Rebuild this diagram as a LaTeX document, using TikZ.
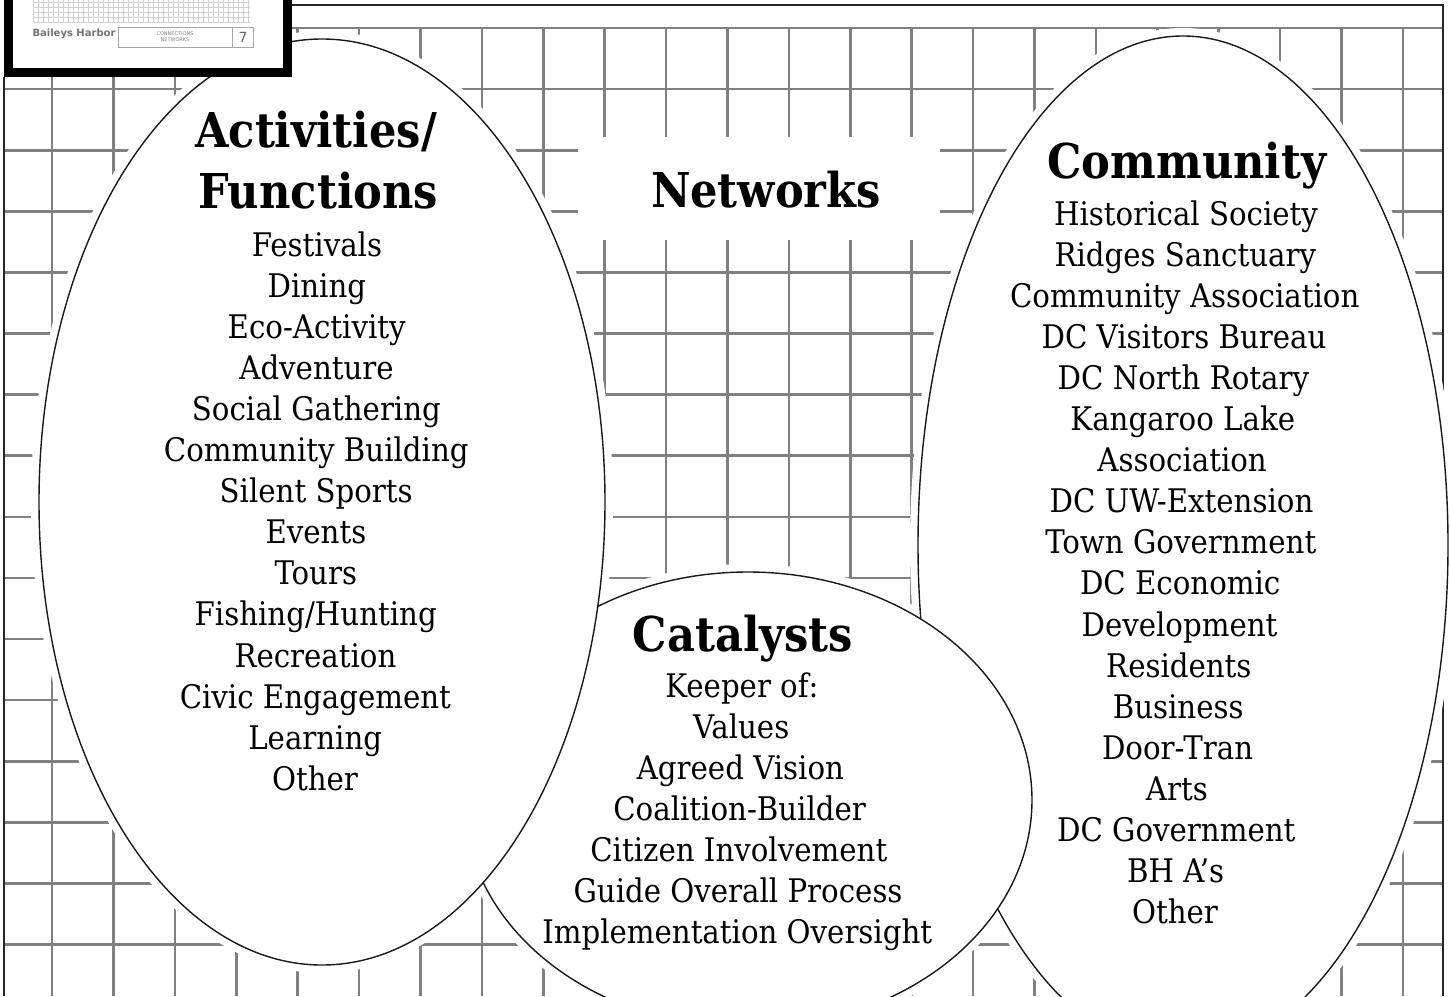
\documentclass[tikz,border=0pt]{standalone}
\usepackage{fontspec}
\setmainfont{DejaVu Serif Condensed}
\setsansfont{DejaVu Sans}
\begin{document}
\begin{tikzpicture}[x=1pt,y=-1pt,
    gridline/.style={draw=black!50, line width=2.6},
    frameline/.style={draw=black!85, line width=1.2},
    halo/.style={draw=white, line width=16},
    blob/.style={fill=white, draw=black!90, line width=1.4},
    item/.style={anchor=base, inner sep=0pt, font=\fontsize{32.5}{38}\selectfont},
    heading/.style={anchor=base, inner sep=0pt, font=\bfseries\fontsize{48}{56}\selectfont}]
    \useasboundingbox (0,0) rectangle (1450,996);
    \fill[white] (0,0) rectangle (1450,996);

    % Grid paper behind everything
    \foreach \k in {0,...,22}
        \draw[gridline] ({52+61.4*\k},28) -- ({52+61.4*\k},996);
    \foreach \k in {0,...,15}
        \draw[gridline] (4,{28+61.1*\k}) -- (1443,{28+61.1*\k});

    % Page border
    \draw[frameline] (292,5) -- (1443,5) -- (1443,996);
    \draw[frameline] (4,77) -- (4,996);

    % White gap round the three ellipses
    \draw[halo] (1183,545) ellipse [x radius=265, y radius=509];
    \draw[halo] (748,800) ellipse [x radius=284, y radius=228];
    \draw[halo] (322,502) ellipse [x radius=283, y radius=463];

    % The ellipses, back to front
    \filldraw[blob] (1183,545) ellipse [x radius=265, y radius=509];
    \filldraw[blob] (748,800) ellipse [x radius=284, y radius=228];
    \filldraw[blob] (322,502) ellipse [x radius=283, y radius=463];

    % Title box
    \fill[white] (578,137) rectangle (940,240);
    \node[heading] (networks) at (766,207) {Networks};

    % Activities / Functions
    \node[heading] (acttitle) at (316,147) {Activities/};
    \node[heading] (actsub) at (318,208) {Functions};
    \foreach \txt [count=\i from 0] in {Festivals, Dining, Eco-Activity, Adventure,
        Social Gathering, Community Building, Silent Sports, Events, Tours,
        Fishing/Hunting, Recreation, Civic Engagement, Learning, Other}
        \node[item] (act\i) at ({317-0.15*\i},{256+41.1*\i}) {\txt};

    % Catalysts
    \node[heading] (cattitle) at (743,651) {Catalysts};
    \foreach \txt [count=\i from 0] in {Keeper of:, Values, Agreed Vision,
        Coalition-Builder, Citizen Involvement, Guide Overall Process,
        Implementation Oversight}
        \node[item] (cat\i) at ({742-0.8*\i},{697+41*\i}) {\txt};

    % Community
    \node[heading] (comtitle) at (1187,178) {Community};
    \foreach \txt [count=\i from 0] in {Historical Society, Ridges Sanctuary,
        Community Association, DC Visitors Bureau, DC North Rotary, Kangaroo Lake,
        Association, DC UW-Extension, Town Government, DC Economic, Development,
        Residents, Business, Door-Tran, Arts, DC Government, BH A’s, Other}
        \node[item] (com\i) at ({1186-0.65*\i},{225+41.1*\i}) {\txt};

    % Thumbnail of the cover page, top left
    \fill[white] (0,0) rectangle (292,77);
    \foreach \k in {0,...,43}
        \draw[black!18, line width=0.5] ({33+5*\k},0) -- ({33+5*\k},22);
    \foreach \k in {0,...,4}
        \draw[black!18, line width=0.5] (33,{2+5*\k}) -- (250,{2+5*\k});
    \node[anchor=base, inner sep=0pt, text=black!55,
        font=\sffamily\bfseries\fontsize{10}{12}\selectfont] (harbor) at (74,36) {Baileys Harbor};
    \draw[black!35, line width=0.6] (118,27) rectangle (253,47);
    \draw[black!35, line width=0.6] (232,27) -- (232,47);
    \node[inner sep=0pt, text=black!50, align=center,
        font=\sffamily\fontsize{5}{6}\selectfont] (thumbtitle) at (175,37) {CONNECTIONS\\NETWORKS};
    \node[inner sep=0pt, text=black!60,
        font=\sffamily\fontsize{14}{16}\selectfont] (pagenum) at (243,37) {7};
    \draw[black, line width=9] (8,-10) -- (8,72.5) -- (287.5,72.5) -- (287.5,-10);
\end{tikzpicture}
\end{document}
